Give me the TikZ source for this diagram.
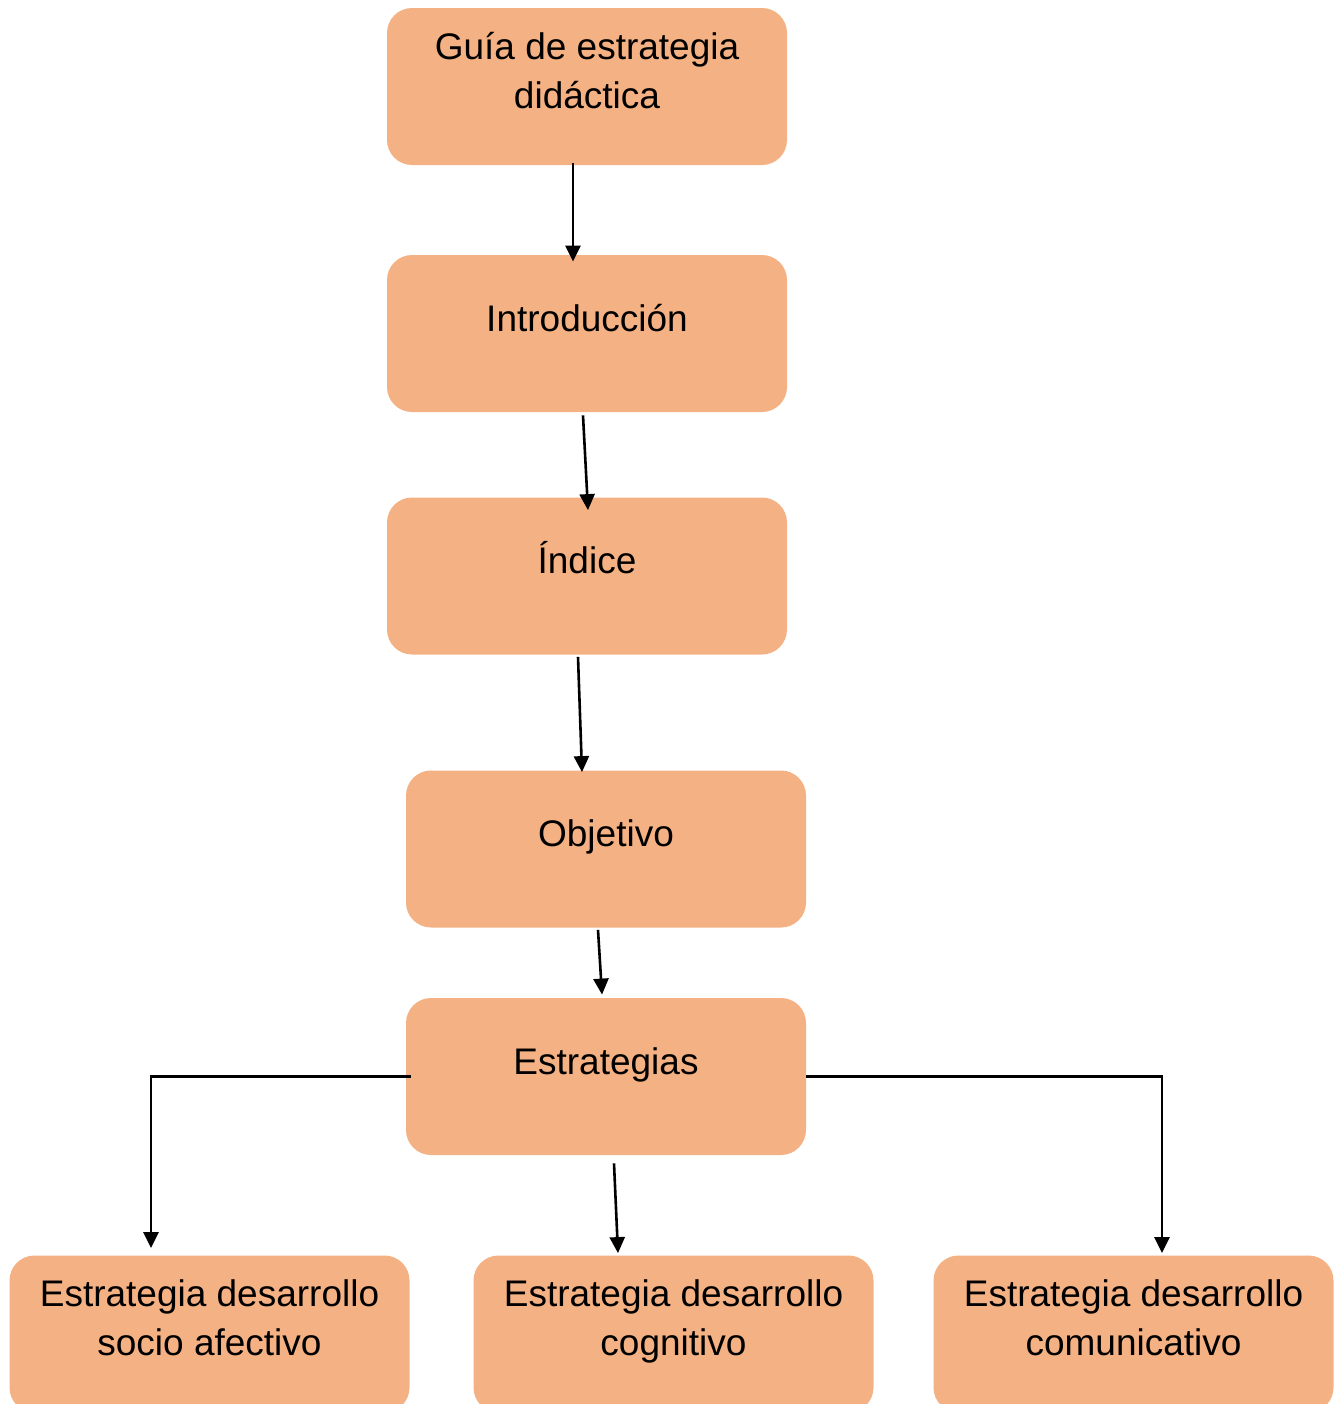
\documentclass[tikz,border=0pt]{standalone}
\usepackage{fontspec}
\setmainfont{Liberation Sans}
\usetikzlibrary{arrows.meta}
\definecolor{boxfill}{HTML}{F4B183}
\begin{document}
\begin{tikzpicture}[x=0.5pt, y=-0.5pt,
  box/.style={fill=boxfill, rounded corners=12.5pt, minimum width=200pt, minimum height=78.5pt,
    inner sep=0pt, align=center, font=\fontsize{18.5}{24.5}\selectfont, text depth=19.6pt,
    execute at begin node=\strut},
  twoline/.style={box, text depth=16.2pt},
  arr/.style={line width=1.3pt, -{Triangle[width=7.5pt, length=8pt]}}]
\useasboundingbox (0, 0) rectangle (1339, 1404);
\clip (0, 0) rectangle (1339, 1404);
\node[twoline] (guia) at (587, 86.5) {Guía de estrategia\\didáctica};
\node[box] (intro) at (587, 333.5) {Introducción};
\node[box] (indice) at (587, 576) {Índice};
\node[box] (obj) at (606, 849) {Objetivo};
\node[box] (estr) at (606, 1076.5) {Estrategias};
\node[twoline] (socio) at (209.5, 1334) {Estrategia desarrollo\\socio afectivo};
\node[twoline] (cogn) at (673.5, 1334) {Estrategia desarrollo\\cognitivo};
\node[twoline] (comu) at (1133.5, 1334) {Estrategia desarrollo\\comunicativo};
\draw[arr] ([xshift=-7pt, yshift=1pt]guia.south) -- ([xshift=-7pt, yshift=-3.5pt]intro.north);
\draw[arr] ([xshift=-2pt, yshift=-1.5pt]intro.south) -- ([xshift=0.5pt, yshift=-6.5pt]indice.north);
\draw[arr] ([xshift=-4.5pt, yshift=-1pt]indice.south) -- ([xshift=-12pt, yshift=-1pt]obj.north);
\draw[arr] ([xshift=-4pt, yshift=-1pt]obj.south) -- ([xshift=-2pt, yshift=1.5pt]estr.north);
\draw[arr] ([xshift=2.5pt]estr.west) -| ([xshift=-29.25pt, yshift=3.5pt]socio.north);
\draw[arr] ([xshift=4pt, yshift=-4pt]estr.south) -- ([xshift=-27.75pt, yshift=1pt]cogn.north);
\draw[arr] (estr.east) -| ([xshift=14.25pt, yshift=1pt]comu.north);
\end{tikzpicture}
\end{document}
